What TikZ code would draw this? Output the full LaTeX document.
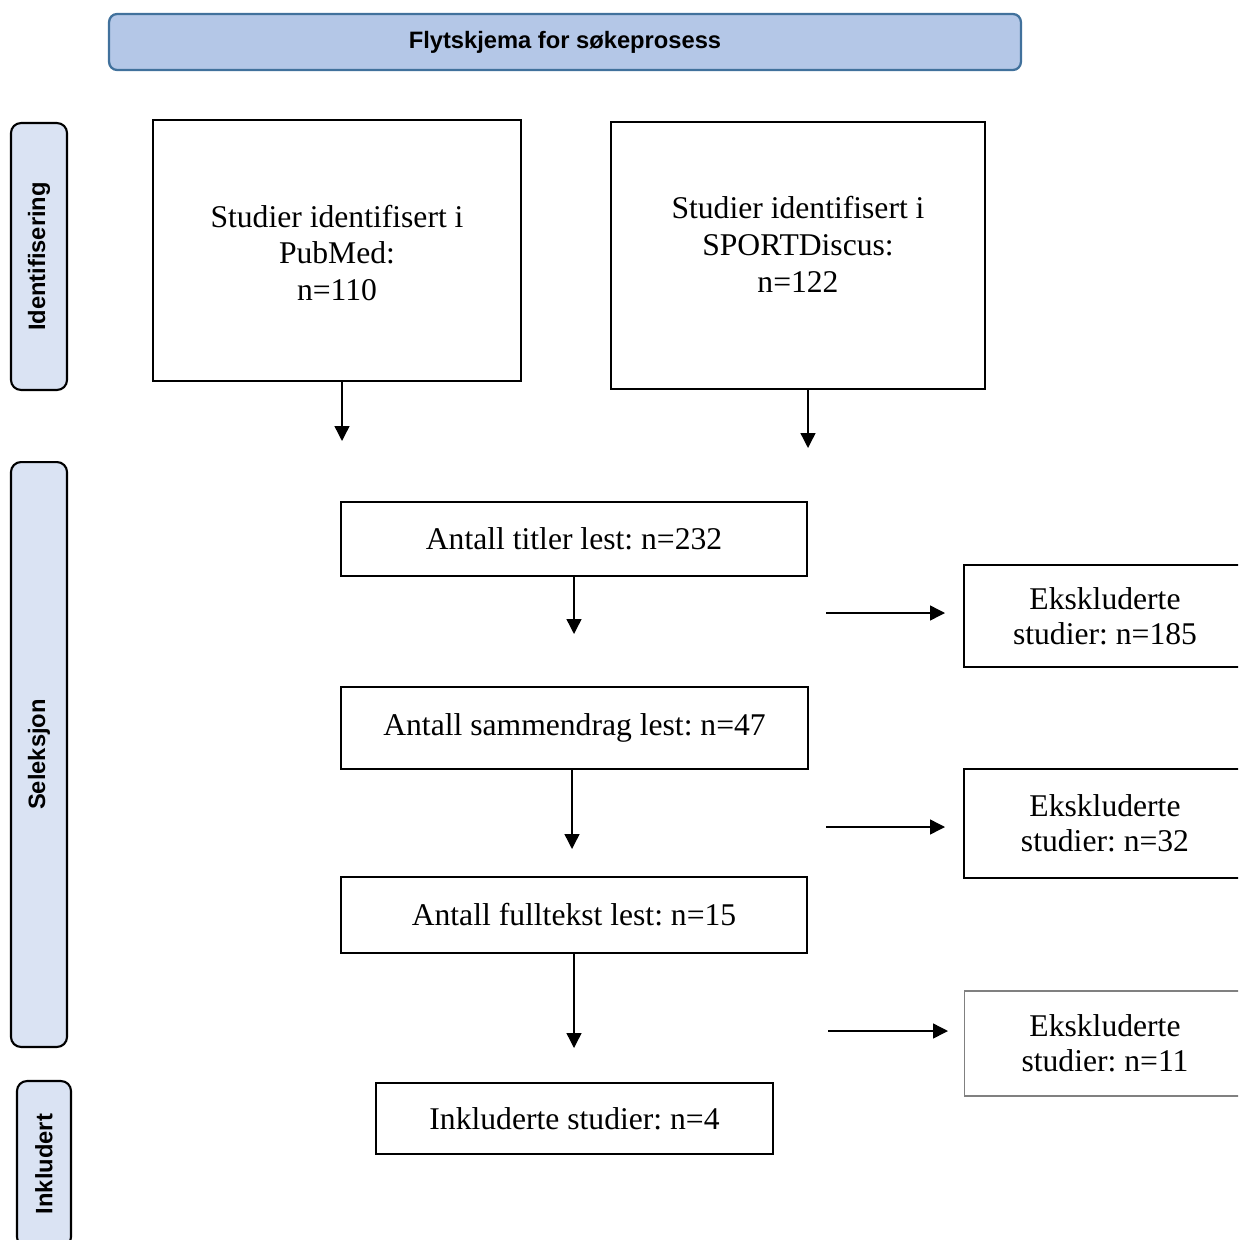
\documentclass[tikz,border=0pt]{standalone}
\usepackage{fontspec}
\setmainfont{Liberation Serif}
\newfontfamily\headFont{Liberation Sans}
\usetikzlibrary{arrows.meta}
\definecolor{headFill}{HTML}{B4C7E7}
\definecolor{headLine}{HTML}{41719C}
\definecolor{sideFill}{HTML}{DAE3F3}
\frenchspacing

\begin{document}
\begin{tikzpicture}[x=0.02cm,y=-0.02cm,
	titleBox/.style={draw=headLine,line width=1.3pt,fill=headFill,rounded corners=0.16cm,minimum width=18.24cm,minimum height=1.12cm,font=\headFont\bfseries\fontsize{13.5}{16}\selectfont},
	sideBox/.style={draw,line width=1.2pt,fill=sideFill,rounded corners=0.2cm,rotate=90,inner sep=0pt,font=\headFont\bfseries\fontsize{13.5}{16}\selectfont},
	studyBox/.style={draw,line width=1.4pt,inner sep=0pt,align=center,font=\fontsize{18}{21}\selectfont},
	studyText/.style={align=center,inner sep=0pt,font=\fontsize{18}{21}\selectfont},
	exclBox/.style={studyBox,minimum width=5.64cm,font=\fontsize{18}{20}\selectfont},
	flowArrow/.style={line width=0.8pt,-{Triangle[length=3mm,width=3mm]}}]
		\useasboundingbox (0,0) rectangle (1238,1240);
		\clip (0,0) rectangle (1238,1240);
		\node[titleBox] (title) at (565,42) {Flytskjema for søkeprosess};
		\node[sideBox,minimum width=5.34cm,minimum height=1.12cm] (identSide) at (39,256.5) {Identifisering};
		\node[sideBox,minimum width=11.7cm,minimum height=1.12cm] (selekSide) at (39,754.5) {Seleksjon};
		\node[sideBox,minimum width=3.32cm,minimum height=1.08cm] (inklSide) at (44,1164) {Inkludert};
		\node[studyBox,minimum width=7.36cm,minimum height=5.22cm] (pubmed) at (337,250.5) {};
		\node[studyText] (pubmedText) at (337,253) {Studier identifisert i\\PubMed:\\n=110};
		\node[studyBox,minimum width=7.48cm,minimum height=5.34cm] (sport) at (798,255.5) {};
		\node[studyText] (sportText) at (798,244) {Studier identifisert i\\SPORTDiscus:\\n=122};
		\node[studyBox,minimum width=9.32cm,minimum height=1.48cm] (titler) at (574,539) {Antall titler lest: n=232};
		\node[studyBox,minimum width=9.34cm,minimum height=1.64cm] (sammendrag) at (574.5,728) {Antall sammendrag lest: n=47};
		\node[studyBox,minimum width=9.32cm,minimum height=1.52cm] (fulltekst) at (574,915) {Antall fulltekst lest: n=15};
		\node[studyBox,minimum width=7.94cm,minimum height=1.42cm] (inkluderte) at (574.5,1118.5) {Inkluderte studier: n=4};
		\node[exclBox,minimum height=2.04cm] (exclOne) at (1105,616) {Ekskluderte\\studier: n=185};
		\node[exclBox,minimum height=2.18cm] (exclTwo) at (1105,823.5) {Ekskluderte\\studier: n=32};
		\node[exclBox,draw=gray,line width=0.6pt,minimum height=2.1cm] (exclThree) at (1105,1043.5) {Ekskluderte\\studier: n=11};
		\coordinate (pubmedEnd) at (342,441);
		\coordinate (sportEnd) at (808,448);
		\coordinate (titlerEnd) at (574,634);
		\coordinate (sammendragEnd) at (572,849);
		\coordinate (fulltekstEnd) at (574,1048);
		\coordinate (exclOneStart) at (826,613);
		\coordinate (exclOneEnd) at (945,613);
		\coordinate (exclTwoStart) at (826,827);
		\coordinate (exclTwoEnd) at (945,827);
		\coordinate (exclThreeStart) at (828,1031);
		\coordinate (exclThreeEnd) at (948,1031);
		\draw[flowArrow] (pubmedEnd |- pubmed.south) -- (pubmedEnd);
		\draw[flowArrow] (sportEnd |- sport.south) -- (sportEnd);
		\draw[flowArrow] (titlerEnd |- titler.south) -- (titlerEnd);
		\draw[flowArrow] (sammendragEnd |- sammendrag.south) -- (sammendragEnd);
		\draw[flowArrow] (fulltekstEnd |- fulltekst.south) -- (fulltekstEnd);
		\draw[flowArrow] (exclOneStart) -- (exclOneEnd);
		\draw[flowArrow] (exclTwoStart) -- (exclTwoEnd);
		\draw[flowArrow] (exclThreeStart) -- (exclThreeEnd);
	\end{tikzpicture}
\end{document}
